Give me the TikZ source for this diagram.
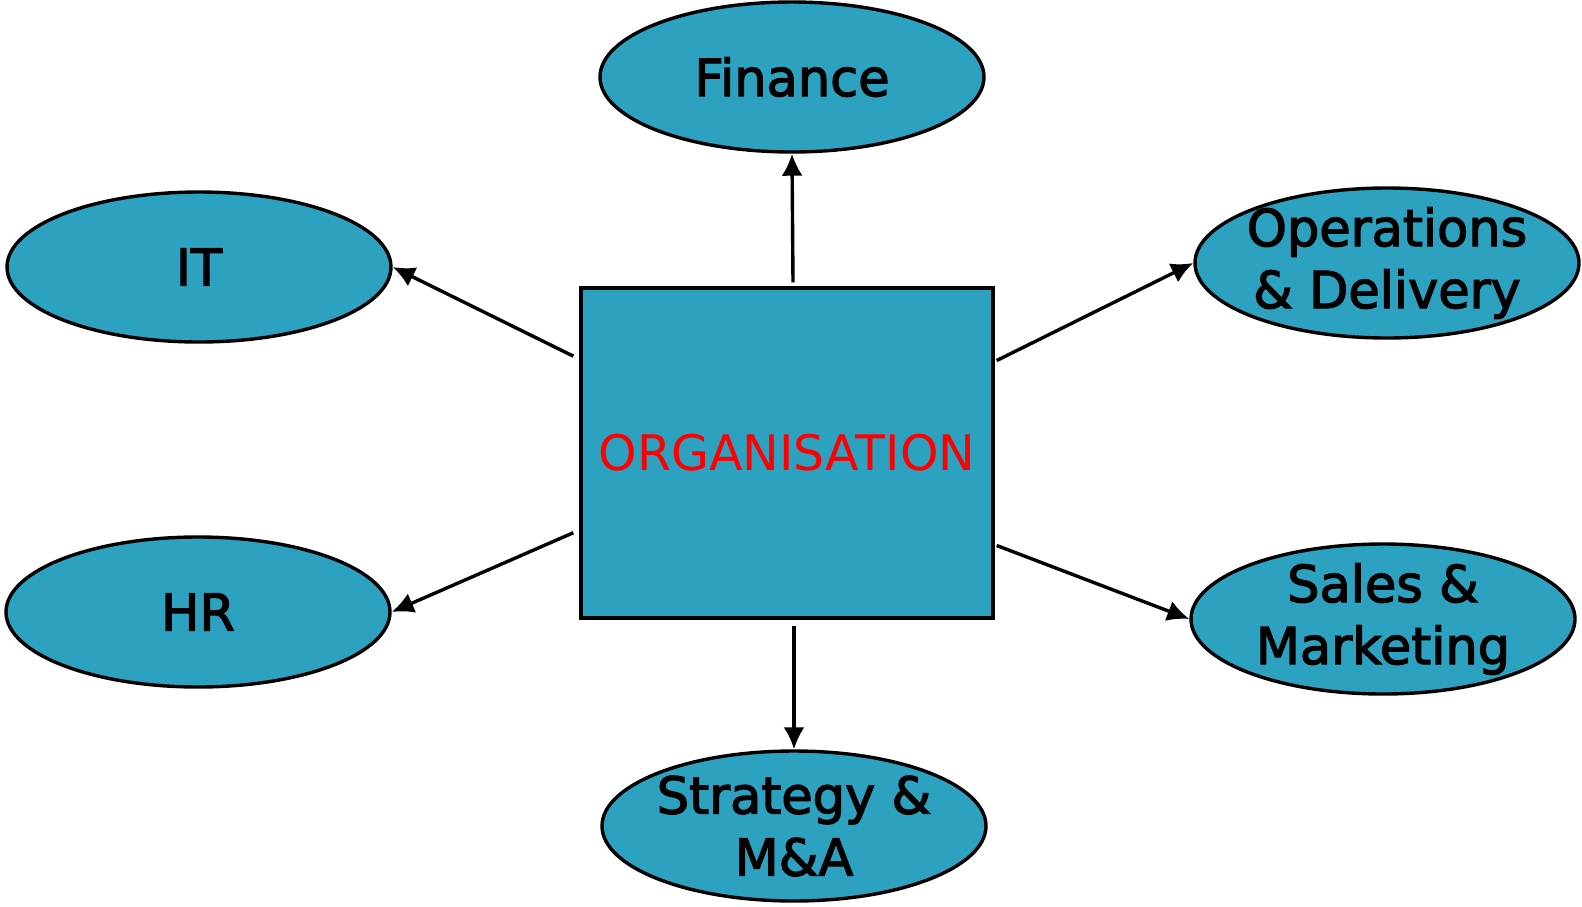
\documentclass[tikz,border=0pt]{standalone}
\usepackage{fontspec}
\setmainfont{DejaVu Sans}
\newfontfamily\unitfont[FakeBold=2.5]{DejaVu Sans}
\usetikzlibrary{arrows.meta,shapes.geometric}
\definecolor{unitblue}{RGB}{44,162,192}

\begin{document}
\begin{tikzpicture}[x=1pt,y=-1pt,
    link/.style = {draw,line width=3.4pt,-{Latex[length=22pt,width=21pt]}},
    unit/.style = {shape=ellipse,draw,fill=unitblue,line width=3.4pt,inner sep=-14pt,minimum width=384pt,minimum height=150pt,align=center,font=\unitfont\fontsize{51}{62}\selectfont},
    core/.style = {shape=rectangle,draw,fill=unitblue,line width=3.4pt,minimum width=412pt,minimum height=330pt,text=red,font=\fontsize{49}{58}\selectfont}]
    \useasboundingbox (0,0) rectangle (1582,906);

    \node (org) [core] at (787,453) {ORGANISATION};

    \node (finance) [unit] at (792,77) {Finance};
    \node (it) [unit] at (199,267) {IT};
    \node (ops) [unit] at (1387,263) {Operations\\ \& Delivery};
    \node (hr) [unit] at (198,612) {HR};
    \node (sales) [unit] at (1383,619) {Sales \&\\ Marketing};
    \node (strategy) [unit] at (794,826) {Strategy \&\\ M\&A};

    \draw[link] ([xshift=6pt,yshift=4pt]org.north) -- (finance.south);
    \draw[link] ([xshift=-6pt]org.155) -- (it.east);
    \draw[link] ([xshift=2pt]org.24) -- (ops.west);
    \draw[link] ([xshift=-6pt]org.201) -- (hr.east);
    \draw[link] ([xshift=2pt]org.336) -- (sales.west);
    \draw[link] ([xshift=7pt,yshift=-6pt]org.south) -- (strategy.north);
\end{tikzpicture}
\end{document}
